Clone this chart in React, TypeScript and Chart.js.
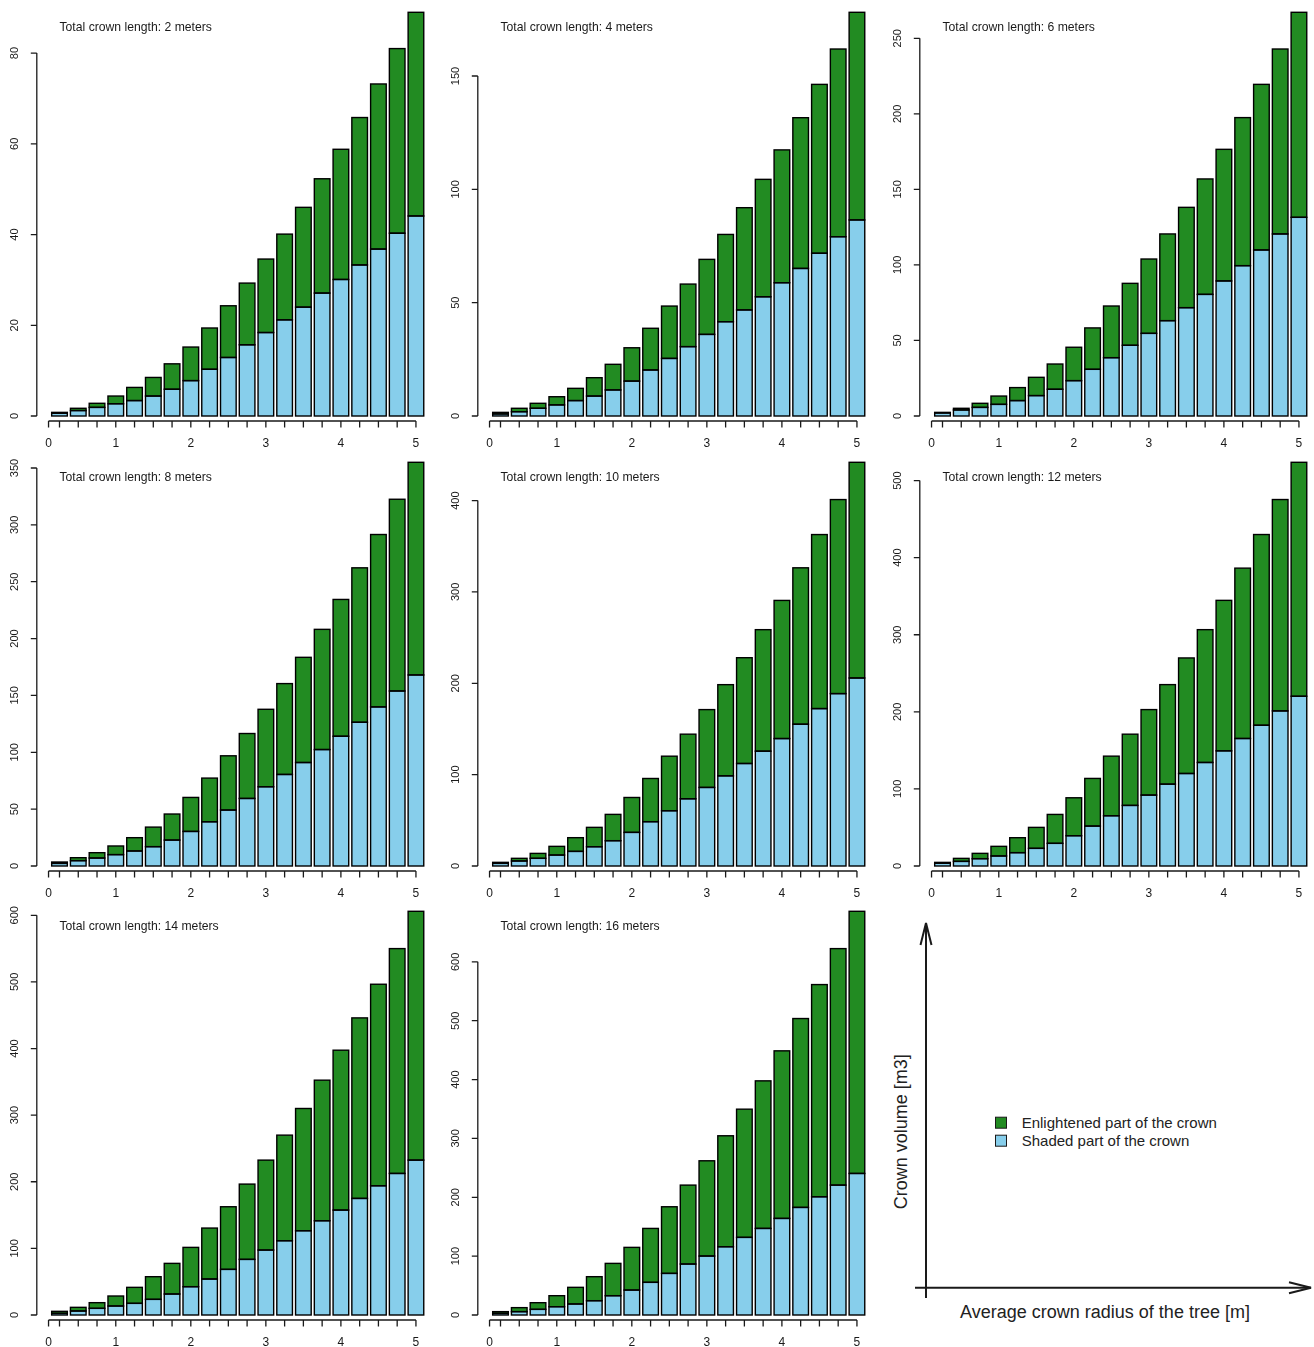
import React, { useEffect, useRef } from 'react';
import { Chart, registerables } from 'chart.js';

Chart.register(...registerables);

// ---------- data ----------
const radii = [0.25, 0.5, 0.75, 1, 1.25, 1.5, 1.75, 2, 2.25, 2.5, 2.75, 3, 3.25, 3.5, 3.75, 4, 4.25, 4.5, 4.75, 5];

const total2 = [0.8, 1.7, 2.8, 4.4, 6.3, 8.5, 11.5, 15.2, 19.4, 24.3, 29.3, 34.6, 40.1, 46.0, 52.3, 58.8, 65.8, 73.2, 81.0, 89.0];
const shaded2 = [0.6, 1.2, 1.9, 2.7, 3.4, 4.4, 5.9, 7.8, 10.3, 12.9, 15.7, 18.4, 21.2, 24.0, 27.1, 30.1, 33.3, 36.8, 40.3, 44.1];

const total4 = [1.6, 3.4, 5.6, 8.5, 12.2, 16.9, 22.8, 30.1, 38.7, 48.5, 58.2, 69.1, 80.1, 91.9, 104.4, 117.4, 131.6, 146.3, 161.9, 178.1];
const shaded4 = [0.9, 1.9, 3.4, 4.9, 6.8, 8.8, 11.5, 15.4, 20.3, 25.4, 30.6, 36.0, 41.6, 46.8, 52.6, 58.8, 65.1, 71.8, 79.1, 86.5];

const total6 = [2.4, 5.1, 8.4, 13.2, 18.8, 25.6, 34.4, 45.5, 58.3, 72.8, 87.8, 103.9, 120.5, 138.1, 156.9, 176.5, 197.5, 219.5, 242.9, 267.2];
const shaded6 = [2.0, 4.0, 5.7, 7.7, 10.2, 13.5, 17.7, 23.4, 30.9, 38.6, 46.8, 54.7, 63.1, 71.7, 80.5, 89.4, 99.5, 109.9, 120.5, 131.5];

const total8 = [3.5, 7.3, 11.7, 17.6, 24.9, 34.2, 45.7, 60.3, 77.3, 96.9, 116.5, 137.8, 160.4, 183.5, 208.1, 234.4, 262.2, 291.5, 322.5, 355.0];
const shaded8 = [2.3, 4.7, 7.0, 10.0, 13.2, 17.0, 22.8, 30.4, 38.9, 49.2, 59.4, 69.7, 80.5, 91.0, 102.4, 114.1, 126.4, 139.9, 153.9, 168.0];

const total10 = [4.0, 8.4, 13.8, 21.5, 31.0, 42.3, 56.5, 75.0, 95.8, 120.2, 144.3, 171.2, 198.5, 228.0, 258.7, 290.7, 326.4, 362.8, 401.1, 441.9];
const shaded10 = [2.9, 5.5, 8.4, 12.0, 16.0, 21.1, 27.7, 36.8, 48.5, 60.5, 73.6, 86.0, 98.7, 112.2, 125.7, 139.5, 155.2, 172.3, 188.7, 205.8];

const total12 = [4.7, 9.9, 16.4, 25.5, 36.7, 50.1, 66.9, 88.5, 113.6, 142.5, 171.0, 202.9, 235.3, 269.9, 306.6, 344.6, 386.4, 430.0, 475.4, 523.7];
const shaded12 = [3.5, 6.0, 9.5, 13.0, 17.3, 22.9, 29.4, 39.3, 51.8, 65.2, 78.6, 92.0, 106.2, 120.0, 134.3, 149.4, 165.4, 182.6, 201.2, 220.2];

const total14 = [5.5, 11.5, 18.5, 28.5, 41.5, 57.5, 77.5, 101.5, 130.5, 162.5, 196.5, 232.5, 270.0, 310.0, 352.5, 397.5, 446.0, 496.5, 550.0, 606.0];
const shaded14 = [2.5, 6.0, 10.0, 13.5, 17.5, 23.5, 31.5, 42.5, 54.0, 68.5, 83.5, 97.5, 111.5, 126.5, 141.5, 157.5, 175.0, 194.0, 212.5, 232.5];

const total16 = [5.7, 12.5, 20.9, 32.8, 47.0, 65.1, 87.7, 114.9, 147.1, 183.9, 220.7, 262.0, 304.5, 349.7, 397.8, 448.8, 503.7, 561.4, 622.5, 685.9];
const shaded16 = [2.8, 5.7, 9.6, 14.1, 18.7, 24.3, 32.8, 42.4, 55.5, 70.7, 86.6, 100.2, 116.0, 131.9, 147.1, 164.1, 182.8, 200.9, 220.7, 240.5];

const yTicks2 = [0, 20, 40, 60, 80];
const yTicks4 = [0, 50, 100, 150];
const yTicks6 = [0, 50, 100, 150, 200, 250];
const yTicks8 = [0, 50, 100, 150, 200, 250, 300, 350];
const yTicks10 = [0, 100, 200, 300, 400];
const yTicks12 = [0, 100, 200, 300, 400, 500];
const yTicks14 = [0, 100, 200, 300, 400, 500, 600];
const yTicks16 = [0, 100, 200, 300, 400, 500, 600];

const xTickLabels = ['0', '1', '2', '3', '4', '5'];
const xTickValues = [0.104, 1, 2, 3, 4, 5];
const xAxisOrigin = 0.104;

const legendLabels = ['Enlightened part of the crown', 'Shaded part of the crown'];
const xAxisTitle = 'Average crown radius of the tree [m]';
const yAxisTitle = 'Crown volume [m3]';
const titlePrefix = 'Total crown length: ';

const PANELS = [
  { length: 2, total: total2, shaded: shaded2, yTicks: yTicks2 },
  { length: 4, total: total4, shaded: shaded4, yTicks: yTicks4 },
  { length: 6, total: total6, shaded: shaded6, yTicks: yTicks6 },
  { length: 8, total: total8, shaded: shaded8, yTicks: yTicks8 },
  { length: 10, total: total10, shaded: shaded10, yTicks: yTicks10 },
  { length: 12, total: total12, shaded: shaded12, yTicks: yTicks12 },
  { length: 14, total: total14, shaded: shaded14, yTicks: yTicks14 },
  { length: 16, total: total16, shaded: shaded16, yTicks: yTicks16 },
];

// ---------- styling ----------
const GREEN = '#228B22';
const SKY = '#87CEEB';
const INK = '#1a1a1a';
const FONT = '"Liberation Sans", Arial, Helvetica, sans-serif';

const COL_X = [0, 441, 883];
const ROW_Y = [0, 450, 899];
const CW = 431;
const CH = 448;
const AREA_LEFT = 36.8;
const AREA_RIGHT = 428;
const AREA_TOP = 12.3;
const AREA_BOTTOM = 416;
const X_MIN = -0.0525;
const X_MAX = 5.1607;
const OUTLINE = 1.4;

// R-style rectangle outlines (centred on each bar edge), drawn from Chart.js bar elements
const outlinePlugin = {
  id: 'rOutline',
  afterDatasetsDraw(chart: any) {
    const { ctx } = chart;
    ctx.save();
    ctx.strokeStyle = '#000';
    ctx.lineWidth = OUTLINE;
    ctx.lineJoin = 'miter';
    chart.getSortedVisibleDatasetMetas().forEach((meta: any) => {
      meta.data.forEach((el: any) => {
        const { x, y, base, width } = el.getProps(['x', 'y', 'base', 'width'], true);
        const top = Math.min(y, base);
        const h = Math.abs(base - y);
        ctx.strokeRect(x - width / 2, top, width, h);
      });
    });
    ctx.restore();
  },
};

const rAxesPlugin = {
  id: 'rAxes',
  afterDraw(chart: any, _args: any, opts: any) {
    const { ctx, chartArea } = chart;
    const xs = chart.scales.x;
    const ys = chart.scales.y;
    ctx.save();
    ctx.strokeStyle = INK;
    ctx.fillStyle = INK;
    ctx.lineWidth = 1.3;

    // y axis (R style: from first to last tick)
    const yl = chartArea.left;
    const yT: number[] = opts.yTicks;
    ctx.beginPath();
    ctx.moveTo(yl, ys.getPixelForValue(yT[0]));
    ctx.lineTo(yl, ys.getPixelForValue(yT[yT.length - 1]));
    for (const t of yT) {
      const py = ys.getPixelForValue(t);
      ctx.moveTo(yl, py);
      ctx.lineTo(yl - 6, py);
    }
    ctx.stroke();
    ctx.font = `11px ${FONT}`;
    ctx.textAlign = 'center';
    ctx.textBaseline = 'middle';
    for (const t of yT) {
      const py = ys.getPixelForValue(t);
      ctx.save();
      ctx.translate(yl - 22, py);
      ctx.rotate(-Math.PI / 2);
      ctx.fillText(String(t), 0, 0);
      ctx.restore();
    }

    // x axis
    const ay = ys.getPixelForValue(0) + 5;
    const marks = [opts.xOrigin, ...opts.radii];
    ctx.beginPath();
    ctx.moveTo(xs.getPixelForValue(marks[0]), ay);
    ctx.lineTo(xs.getPixelForValue(marks[marks.length - 1]), ay);
    for (const m of marks) {
      const px = xs.getPixelForValue(m);
      ctx.moveTo(px, ay);
      ctx.lineTo(px, ay + 6.5);
    }
    ctx.stroke();
    ctx.font = `12px ${FONT}`;
    opts.xTickValues.forEach((v: number, i: number) => {
      ctx.fillText(opts.xTickLabels[i], xs.getPixelForValue(v), ay + 23);
    });

    // panel title
    ctx.font = `12.2px ${FONT}`;
    ctx.textAlign = 'left';
    ctx.fillText(opts.title, xs.getPixelForValue(opts.radii[0]), chartArea.top + 15);
    ctx.restore();
  },
};

function BarPanel({ panel, left, top }: { panel: any; left: number; top: number }) {
  const ref = useRef<HTMLCanvasElement | null>(null);
  useEffect(() => {
    if (!ref.current) return;
    const enlightened = panel.total.map((t: number, i: number) => t - panel.shaded[i]);
    const common = {
      borderWidth: 0,
      inflateAmount: 0,
      barPercentage: 0.8333,
      categoryPercentage: 1,
      clip: false as any,
    };
    const chart = new Chart(ref.current, {
      type: 'bar',
      data: {
        datasets: [
          {
            ...common,
            label: legendLabels[1],
            data: radii.map((r, i) => ({ x: r, y: panel.shaded[i] })),
            backgroundColor: SKY,
          },
          {
            ...common,
            label: legendLabels[0],
            data: radii.map((r, i) => ({ x: r, y: enlightened[i] })),
            backgroundColor: GREEN,
          },
        ],
      } as any,
      options: {
        responsive: false,
        animation: false,
        layout: {
          padding: {
            left: AREA_LEFT,
            right: CW - AREA_RIGHT,
            top: AREA_TOP,
            bottom: CH - AREA_BOTTOM,
          },
        },
        scales: {
          x: {
            type: 'linear',
            min: X_MIN,
            max: X_MAX,
            offset: false,
            stacked: true,
            display: false,
          },
          y: { min: 0, max: Math.max(...panel.total), stacked: true, display: false },
        },
        plugins: {
          legend: { display: false },
          tooltip: { enabled: false },
          rAxes: {
            yTicks: panel.yTicks,
            radii,
            xOrigin: xAxisOrigin,
            xTickValues,
            xTickLabels,
            title: `${titlePrefix}${panel.length} meters`,
          },
        } as any,
      },
      plugins: [outlinePlugin, rAxesPlugin],
    });
    return () => chart.destroy();
  }, [panel]);
  return (
    <canvas
      ref={ref}
      width={CW}
      height={CH}
      style={{ position: 'absolute', left, top, width: CW, height: CH }}
    />
  );
}

function KeyPanel({ left, top }: { left: number; top: number }) {
  return (
    <svg
      width={434}
      height={448}
      style={{ position: 'absolute', left, top, fontFamily: FONT }}
    >
      <g stroke={INK} strokeWidth={2} fill="none">
        <line x1={46} y1={399} x2={46} y2={24} />
        <polyline points="40.5,46 46,24 51.5,46" />
        <line x1={35} y1={388.7} x2={431} y2={388.7} />
        <polyline points="409,383.2 431,388.7 409,394.2" />
      </g>
      <text
        transform="translate(20.7,232.7) rotate(-90)"
        textAnchor="middle"
        dominantBaseline="central"
        fontSize={18}
        fill="#222"
      >
        {yAxisTitle}
      </text>
      <text x={225} y={413.3} textAnchor="middle" dominantBaseline="central" fontSize={18} fill="#222">
        {xAxisTitle}
      </text>
      <rect x={115.5} y={218.2} width={11} height={11} fill={GREEN} stroke={INK} strokeWidth={1} />
      <text x={141.7} y={223.7} dominantBaseline="central" fontSize={15} fill="#222">
        {legendLabels[0]}
      </text>
      <rect x={115.5} y={236.2} width={11} height={11} fill={SKY} stroke={INK} strokeWidth={1} />
      <text x={141.7} y={241.7} dominantBaseline="central" fontSize={15} fill="#222">
        {legendLabels[1]}
      </text>
    </svg>
  );
}

export default function App() {
  return (
    <div
      style={{
        position: 'absolute',
        left: 0,
        top: 0,
        width: 1314,
        height: 1347,
        overflow: 'hidden',
        background: '#fff',
      }}
    >
      {PANELS.map((p, i) => (
        <BarPanel key={p.length} panel={p} left={COL_X[i % 3]} top={ROW_Y[Math.floor(i / 3)]} />
      ))}
      <KeyPanel left={880} top={899} />
    </div>
  );
}
